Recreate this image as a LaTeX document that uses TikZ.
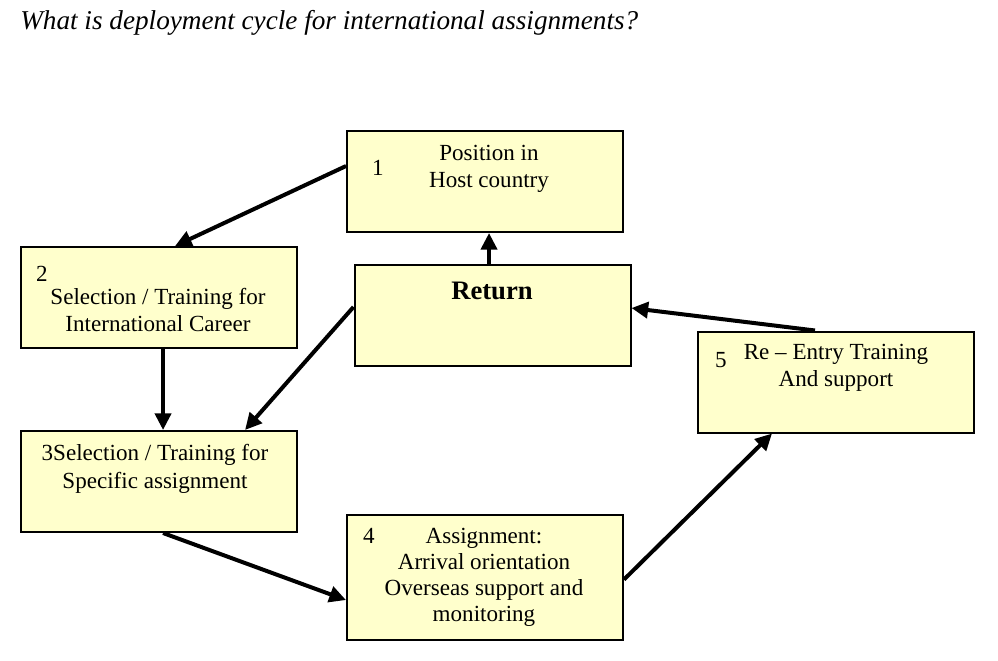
\documentclass[tikz,border=0pt]{standalone}
\usepackage{fontspec}
\setmainfont{Liberation Serif}
\usetikzlibrary{arrows.meta}
\definecolor{boxfill}{HTML}{FFFFCC}

\begin{document}
\begin{tikzpicture}[x=0.75pt, y=-0.75pt,
  stage/.style={draw, fill=boxfill, line width=1.5pt, inner sep=0pt, minimum width=207pt, minimum height=75.75pt},
  txt/.style={align=center, inner sep=0pt, font=\fontsize{17.3}{20.5}\selectfont},
  num/.style={inner sep=0pt, font=\fontsize{17.3}{20.5}\selectfont},
  flow/.style={line width=3pt, -{Triangle[length=12.5pt, width=12pt]}}]
\useasboundingbox (0,0) rectangle (998,660);
\node[anchor=west, inner sep=0pt, font=\fontsize{20.4}{24}\selectfont\itshape] (title) at (20,23) {What is deployment cycle for international assignments?};
\node[stage] (S1) at (485,181.5) {};
\node[stage] (S2) at (158.5,297.5) {};
\node[stage] (R) at (492.5,315.5) {};
\node[stage] (S5) at (836,382) {};
\node[stage] (S3) at (158.5,481.5) {};
\node[stage, minimum height=93.75pt] (S4) at (485,577.5) {};
\node[num] (S1n) at (378,168) {1};
\node[txt] (S1t) at (489,169) {Position in\\Host country};
\node[num] (S2n) at (42,274) {2};
\node[txt] (S2t) at (158,310) {Selection / Training for\\International Career};
\node[txt] (S3t) at (155,469) {3Selection / Training for\\Specific assignment};
\node[num] (S4n) at (369,536) {4};
\node[txt, font=\fontsize{17.3}{19.5}\selectfont] (S4t) at (484,577) {Assignment:\\Arrival orientation\\Overseas support and\\monitoring};
\node[num] (S5n) at (721,360) {5};
\node[txt] (S5t) at (836,368) {Re -- Entry Training\\And support};
\node[inner sep=0pt, font=\fontsize{20}{24}\selectfont\bfseries] (Rt) at (492,291) {Return};
\draw[flow] ([yshift=11.6pt]S1.west) -- ([xshift=12.4pt]S2.north);
\draw[flow] ([xshift=-2.6pt]R.north) -- ([xshift=-2.6pt]R.north |- S1.south);
\draw[flow] ([xshift=3.4pt]S2.south) -- ([xshift=3.4pt]S3.north);
\draw[flow] ([yshift=6.4pt]R.west) -- ([xshift=64.9pt]S3.north);
\draw[flow] ([xshift=3.4pt]S3.south) -- ([yshift=-16.9pt]S4.west);
\draw[flow] ([yshift=-1.5pt]S4.east) -- ([xshift=-48pt]S5.south);
\draw[flow] ([xshift=-15.75pt]S5.north) -- ([yshift=5.6pt]R.east);
\end{tikzpicture}
\end{document}
